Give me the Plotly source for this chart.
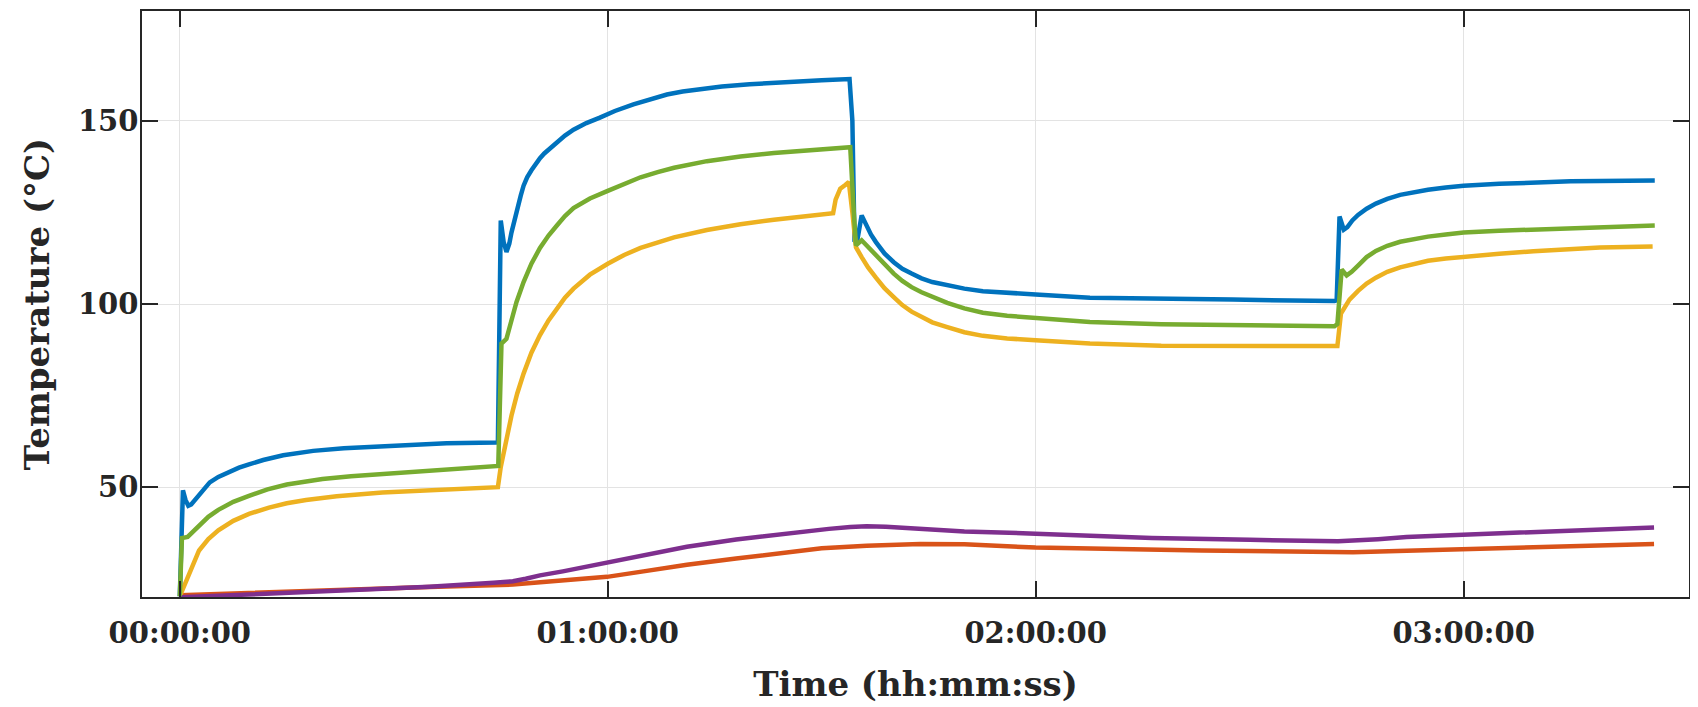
import plotly.graph_objects as go

# ---------------- data (time in minutes, temperature in °C) ----------------
t_blue = [0, 0.2, 0.44, 0.8, 1.19, 1.6, 2.0, 2.7, 3.4, 4.2, 5.4, 7, 8.3, 9.7, 11.7, 14.5, 18.7,
          23, 28.1, 33, 37.4, 44.4,
          44.6, 45.0, 45.4, 45.8, 46.2, 46.5, 46.9, 47.3, 47.8, 48.2, 48.7, 49.3, 49.9, 50.5, 51.1,
          51.7, 52.3, 52.9, 54, 55.2, 57, 58.9,
          61, 63.6, 66, 68.3, 70.5, 72.9, 76, 79.9, 83, 86.9, 90, 93.9,
          94.3, 94.6, 95.0, 95.6, 96.2, 96.9, 97.6, 98.8, 100.1, 101.3, 102.6, 104, 105.5,
          107.6, 110, 112.6, 116, 120, 127.6, 137.6, 147.6, 161.9,
          162.2, 162.6, 163.2, 163.7, 164.4, 165.2, 166.4, 167.7, 169.3, 171.1, 173, 175,
          177.5, 180, 185, 189.8, 195, 199.1, 206.8]
T_blue = [20.2, 40, 49.1, 46.5, 44.9, 45.3, 46.3, 48, 49.8, 51.3, 52.8, 54.3, 55.3, 56.2, 57.4, 58.7, 59.9,
          60.6, 61.2, 61.6, 62, 62.2,
          62.3, 122.8, 117, 114.2, 116.5, 119.5, 123, 126.5, 129.6, 132.3, 134.6, 136.5, 138.3, 139.8, 141.1,
          142.2, 143.2, 144.1, 146, 147.6, 149.4, 150.9,
          152.7, 154.5, 156, 157.2, 158, 158.7, 159.4, 160, 160.4, 160.8, 161.1, 161.4,
          150, 117, 117.5, 124.2, 121.5, 119, 116.9, 113.8, 111.4, 109.6, 108.3, 107, 106,
          105.1, 104.2, 103.5, 103, 102.6, 101.7, 101.3, 101.2, 100.8,
          101, 123.9, 120.3, 121, 122.8, 124.3, 126, 127.4, 128.7, 129.8, 130.6, 131.2,
          131.8, 132.3, 132.8, 133.2, 133.5, 133.6, 133.7]

t_orange = [0, 10, 22.3, 35, 46.7, 52, 59.9, 65, 71.1, 78, 85.1, 90, 96.3, 103.8, 110, 120,
            143.3, 155, 164.5, 172, 179.9, 192.8, 206.7]
T_orange = [20.5, 21.2, 22, 22.7, 23.4, 24.3, 25.5, 27, 28.8, 30.5, 32, 33.3, 34, 34.5, 34.4, 33.5,
            32.7, 32.3, 32.2, 32.6, 33.1, 33.8, 34.5]

t_yellow = [0, 0.5, 1.1, 1.9, 2.7, 4, 5.4, 7.5, 9.7, 12.5, 15, 17.7, 22, 28.4, 34, 39.2, 44.6,
            45.0, 45.4, 45.9, 46.5, 47.3, 48.2, 49.3, 50.5, 51.7, 52.9, 54, 55.2, 57.5, 60, 62.3,
            64.6, 67, 69.3, 73.9, 78.6, 83.3, 87.5, 91.6,
            91.95, 92.3, 92.6, 93.3, 93.8, 94.3, 94.8, 95.6, 96.5, 97.6, 98.8, 100.1, 101.3,
            102.6, 104, 105.5, 107.6, 110, 112.6, 116, 120, 127.6, 137.6, 147.6, 161.9,
            162.3, 162.8, 163.4, 164, 165.2, 166.4, 167.7, 169.3, 171.1, 173, 175, 177.5, 180,
            185, 189.8, 199.1, 206.5]
T_yellow = [20.2, 22.5, 25.6, 29.5, 32.7, 35.8, 38.2, 40.8, 42.7, 44.4, 45.6, 46.5, 47.5, 48.5, 49, 49.4, 50,
            55.5, 59.5, 64.5, 69.5, 75.5, 81, 86.7, 91.5, 95.5, 98.8, 101.7, 104.2, 108, 111, 113.4,
            115.3, 116.9, 118.2, 120.2, 121.8, 123, 124, 124.8,
            128.5, 130.5, 131.5, 132.5, 133.3, 125, 115.5, 112.8, 110, 107.2, 104.3, 101.9, 99.7,
            97.9, 96.4, 95, 93.7, 92.3, 91.3, 90.6, 90.1, 89.2, 88.6, 88.5, 88.3,
            88.5, 97.4, 99.6, 101.2, 103.6, 105.6, 107.2, 108.8, 110, 111, 111.8, 112.4, 112.9,
            113.7, 114.4, 115.4, 115.7]

t_purple = [0, 10, 22.3, 35, 44, 46.7, 48.5, 50.5, 53.7, 56.8, 59.9, 65, 71.1, 78, 85.1, 91, 94,
            96.3, 99, 103.8, 110, 120, 136.3, 150, 162.4, 168, 172, 179.9, 192.8, 206.7]
T_purple = [19.9, 20.7, 21.5, 22.8, 23.9, 24.3, 25, 25.9, 27, 28.2, 29.3, 31.4, 33.7, 35.7, 37.4, 38.6, 39.1,
            39.3, 39.2, 38.5, 37.9, 37.3, 36.1, 35.6, 35.2, 35.8, 36.4, 37, 38.1, 39]

t_green = [0, 0.3, 1.1, 1.9, 2.7, 4, 5.4, 7.5, 9.7, 12.3, 15, 17.7, 20, 24, 28.2, 33, 37.4, 41,
           44.65, 45.1, 45.8, 46.5, 47.2, 48.2, 49.3, 50.5, 51.7, 52.9, 54, 55.2, 57.5, 60, 62.3,
           64.6, 67, 69.3, 73.9, 78.6, 83.3, 88.6, 94.0,
           94.5, 94.8, 95.6, 96.5, 97.6, 98.8, 100.1, 101.3, 102.6, 104, 105.5, 107.6, 110, 112.6,
           116, 120, 127.6, 137.6, 147.6, 161.9,
           162.3, 162.9, 163.6, 164.3, 165.2, 166.4, 167.7, 169.3, 171.1, 173, 175, 177.5, 180,
           185, 189.8, 199.1, 206.8]
T_green = [20.2, 36.1, 36.4, 37.9, 39.7, 41.9, 43.8, 46, 47.6, 49.4, 50.7, 51.6, 52.2, 53, 53.6, 54.3, 54.9, 55.3,
           55.8, 89.2, 90.5, 95.5, 100.5, 106, 111, 115.3, 118.7, 121.5, 124, 126.2, 128.8, 130.9, 132.9,
           134.6, 136, 137.2, 139, 140.3, 141.2, 142.1, 142.8,
           125, 116, 117.4, 115.5, 113.2, 110.6, 108.3, 106.3, 104.6, 103.2, 101.9, 100.3, 98.8, 97.6,
           96.8, 96.2, 95.1, 94.5, 94.2, 93.9,
           94.5, 109.4, 107.8, 108.8, 110.5, 112.8, 114.5, 115.9, 117, 117.8, 118.4, 119, 119.5,
           120, 120.3, 121, 121.4]

x_tickvals = [0, 60, 120, 180]
x_ticktext = ["00:00:00", "01:00:00", "02:00:00", "03:00:00"]
y_tickvals = [50, 100, 150]
x_range = [-5.3, 211.6]
y_range = [20, 180]

series = [
    (t_blue, T_blue, "#0072BD"),
    (t_orange, T_orange, "#D95319"),
    (t_yellow, T_yellow, "#EDB120"),
    (t_purple, T_purple, "#7E2F8E"),
    (t_green, T_green, "#77AC30"),
]

fig = go.Figure()
for tx, ty, col in series:
    fig.add_trace(go.Scatter(x=tx, y=ty, mode="lines",
                             line=dict(color=col, width=4.5), showlegend=False,
                             hoverinfo="skip"))

font_fam = "DejaVu Serif"
axis_common = dict(
    showline=True, linecolor="#262626", linewidth=1.5, mirror="allticks",
    ticks="inside", ticklen=16, tickwidth=1.5, tickcolor="#262626",
    showgrid=True, gridcolor="#e3e3e3", gridwidth=1, zeroline=False, automargin=False,
    tickfont=dict(family=font_fam, size=29, color="#262626", weight=700),
)

fig.update_xaxes(range=x_range, tickvals=x_tickvals, ticktext=x_ticktext,
                 ticklabelstandoff=9,
                 title=dict(text="Time (hh:mm:ss)", standoff=24,
                            font=dict(family=font_fam, size=34, color="#262626", weight=700)),
                 **axis_common)
fig.update_yaxes(range=y_range, tickvals=y_tickvals,
                 ticklabelstandoff=-4,
                 title=dict(text="Temperature (°C)", standoff=18,
                            font=dict(family=font_fam, size=34, color="#262626", weight=700)),
                 **axis_common)

# the page body adds an 8 px offset, so the figure is sized to fill the rest of the window
fig.update_layout(width=1690, height=699, autosize=False,
                  margin=dict(l=134, r=9, t=3, b=110),
                  paper_bgcolor="white", plot_bgcolor="white")

fig.write_html("out.html")
